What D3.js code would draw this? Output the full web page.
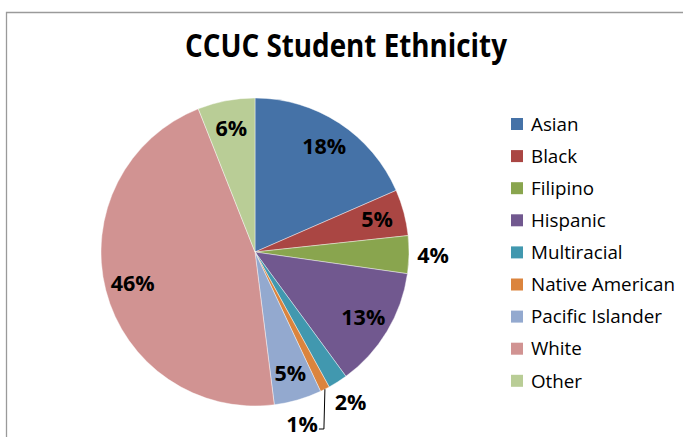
<!DOCTYPE html>
<html><head><meta charset="utf-8">
<script src="https://cdn.jsdelivr.net/npm/d3@7"></script>
<style>html,body{margin:0;padding:0;background:#fff;}svg{display:block;}</style>
</head><body>
<svg id="chart" width="683" height="437"></svg>
<script>
const title = "CCUC Student Ethnicity";
const categories = ["Asian","Black","Filipino","Hispanic","Multiracial","Native American","Pacific Islander","White","Other"];
const values = [18.45, 4.85, 3.95, 12.7, 2.05, 1.0, 5.0, 46.0, 6.0];
const colors = ["#4572A7","#AA4643","#89A54E","#71588F","#4198AF","#DB843D","#93A9CF","#D19392","#B9CD96"];

const svg = d3.select("#chart");
const W = 683, H = 437;
svg.append("rect").attr("width",W).attr("height",H).attr("fill","#fff");
// chart border (top/left visible)
svg.append("path").attr("d","M6.5,437 L6.5,12.5 L683,12.5").attr("fill","none").attr("stroke","#9a9a9a").attr("stroke-width",1.3);

svg.append("text").attr("x",346).attr("y",57).attr("text-anchor","middle")
  .attr("font-family","Open Sans").attr("font-weight","bold").attr("font-size",33)
  .attr("textLength",322).attr("lengthAdjust","spacingAndGlyphs")
  .attr("fill","#000").text(title);

const cx = 255, cy = 252, R = 154;
const g = svg.append("g").attr("transform",`translate(${cx},${cy})`);
const pie = d3.pie().sort(null).value(d=>d.v);
const data = pie(categories.map((c,i)=>({c, v: values[i], i})));
const arc = d3.arc().innerRadius(0).outerRadius(R);
g.selectAll("path.slice").data(data).join("path").attr("class","slice")
  .attr("d",arc).attr("fill",d=>colors[d.data.i])
  .attr("stroke","#ffffff").attr("stroke-width",0.6).attr("stroke-opacity",0.7);

const total = d3.sum(values);
const pt = (a, r) => [r*Math.sin(a), -r*Math.cos(a)];
data.forEach(d=>{
  const a = (d.startAngle+d.endAngle)/2;
  const pct = Math.round(d.data.v/total*100) + "%";
  const txt = g.append("text").attr("font-family","Open Sans").attr("font-weight","bold")
    .attr("font-size",21.5).attr("fill","#000").attr("dy","0.36em").text(pct);
  if (d.data.v >= 4.5) {
    const [x,y] = pt(a, R*0.82);
    txt.attr("x",x).attr("y",y).attr("text-anchor","middle");
  } else if (d.data.v >= 1.5) {
    const [x,y] = pt(a, R+24);
    txt.attr("x",x).attr("y",y).attr("text-anchor","middle");
  } else {
    const [px,py] = pt(a, R);
    const ly = R + 23;
    g.append("path").attr("d",`M${px},${py} L${px-1},${ly} L${px-6},${ly}`)
      .attr("fill","none").attr("stroke","#000").attr("stroke-width",1);
    txt.attr("x",px-7).attr("y",ly-5).attr("text-anchor","end");
  }
});

const lg = svg.append("g").attr("transform","translate(511,124)");
const rows = lg.selectAll("g").data(categories).join("g").attr("transform",(d,i)=>`translate(0,${i*32.1})`);
rows.append("rect").attr("x",0).attr("y",-6).attr("width",12).attr("height",12).attr("fill",(d,i)=>colors[i]);
rows.append("text").attr("x",20).attr("y",0).attr("dy","0.36em")
  .attr("font-family","Open Sans").attr("font-size",18.8).attr("fill","#000").text(d=>d);
</script>
</body></html>
